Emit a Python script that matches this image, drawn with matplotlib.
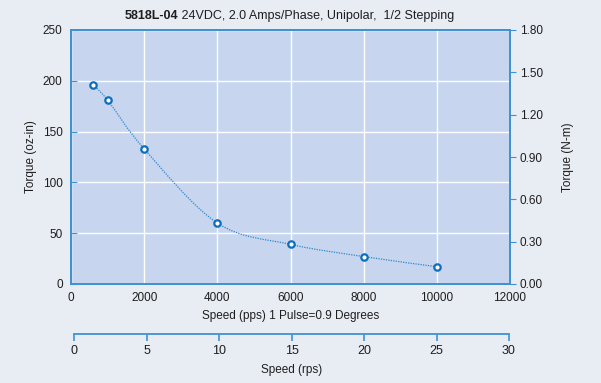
import matplotlib
matplotlib.use("Agg")
import matplotlib.pyplot as plt
import numpy as np
from matplotlib.path import Path
from matplotlib.patches import PathPatch

# torque curve
speed_pps = [600, 1000, 2000, 4000, 6000, 8000, 10000]
torque_ozin = [196, 181, 133, 60, 39, 27, 17]

x_ticks = [0, 2000, 4000, 6000, 8000, 10000, 12000]
y_ticks = [0, 50, 100, 150, 200, 250]
nm_ticks = [0.0, 0.3, 0.6, 0.9, 1.2, 1.5, 1.8]
rps_ticks = [0, 5, 10, 15, 20, 25, 30]

title_bold = "5818L-04"
title_rest = " 24VDC, 2.0 Amps/Phase, Unipolar,  1/2 Stepping"

plt.rcParams["font.family"] = ["Liberation Sans", "DejaVu Sans"]
plt.rcParams["font.size"] = 8.5

bg = "#E8ECF3"
face = "#C7D5EE"
spine_c = "#3F92D2"
line_c = "#2F86CC"
mark_c = "#0B6FBE"
txt = "#1E1E1E"


def smooth_path(xs, ys):
    # Catmull-Rom through the points, drawn as cubic Bezier segments
    pts = np.column_stack([xs, ys]).astype(float)
    verts = [pts[0]]
    codes = [Path.MOVETO]
    n = len(pts)
    for i in range(n - 1):
        p0 = pts[max(i - 1, 0)]
        p1 = pts[i]
        p2 = pts[i + 1]
        p3 = pts[min(i + 2, n - 1)]
        verts += [p1 + (p2 - p0) / 6.0, p2 - (p3 - p1) / 6.0, p2]
        codes += [Path.CURVE4] * 3
    return Path(verts, codes)


fig = plt.figure(figsize=(6.01, 3.83), dpi=100)
fig.patch.set_facecolor(bg)

ax = fig.add_axes([71 / 601, 1 - 284 / 383, 439 / 601, 254 / 383])
ax.set_facecolor(face)
ax.set_xlim(0, 12000)
ax.set_ylim(0, 250)
ax.set_xticks(x_ticks)
ax.set_yticks(y_ticks)
ax.grid(True, color="white", linewidth=1.0)
ax.set_axisbelow(True)
for s in ax.spines.values():
    s.set_color(spine_c)
    s.set_linewidth(1.3)
ax.tick_params(axis="y", direction="in", length=4, color=spine_c, labelcolor=txt, pad=6)
ax.tick_params(axis="x", length=0, labelcolor=txt, pad=6)

patch = PathPatch(smooth_path(speed_pps, torque_ozin), facecolor="none",
                  edgecolor=line_c, linewidth=0.9, linestyle=(0, (1, 1)))
ax.add_patch(patch)
ax.plot(speed_pps, torque_ozin, "o", markersize=4.6, markerfacecolor="white",
        markeredgecolor=mark_c, markeredgewidth=1.6, zorder=3)

ax.set_ylabel("Torque (oz-in)", color=txt, labelpad=4)
ax.set_xlabel("Speed (pps) 1 Pulse=0.9 Degrees", color=txt, labelpad=4)

ax2 = ax.twinx()
ax2.set_ylim(0, 1.8)
ax2.set_yticks(nm_ticks)
ax2.set_yticklabels([f"{v:.2f}" for v in nm_ticks])
ax2.tick_params(axis="y", direction="out", length=4, color=spine_c, labelcolor=txt, pad=3)
for s in ax2.spines.values():
    s.set_color(spine_c)
    s.set_linewidth(1.3)
ax2.set_ylabel("Torque (N-m)", color=txt, labelpad=14)

# second speed scale in revolutions per second
ax3 = fig.add_axes([74 / 601, 1 - 334 / 383, 435 / 601, 0.001])
ax3.set_xlim(0, 30)
ax3.set_xticks(rps_ticks)
ax3.set_yticks([])
ax3.patch.set_visible(False)
for k in ["top", "left", "right"]:
    ax3.spines[k].set_visible(False)
ax3.spines["bottom"].set_color(spine_c)
ax3.spines["bottom"].set_linewidth(1.3)
ax3.tick_params(axis="x", direction="out", length=5, width=1.2, color=spine_c,
                labelcolor=txt, labelsize=9, pad=3)
ax3.set_xlabel("Speed (rps)", color=txt, labelpad=5)

fig.text(178 / 601, 1 - 16 / 383, title_bold, ha="right", va="center",
         fontweight="bold", fontsize=9, color=txt)
fig.text(178 / 601, 1 - 16 / 383, title_rest, ha="left", va="center",
         fontsize=9, color=txt)

fig.savefig("out.png", dpi=100, facecolor=bg)
